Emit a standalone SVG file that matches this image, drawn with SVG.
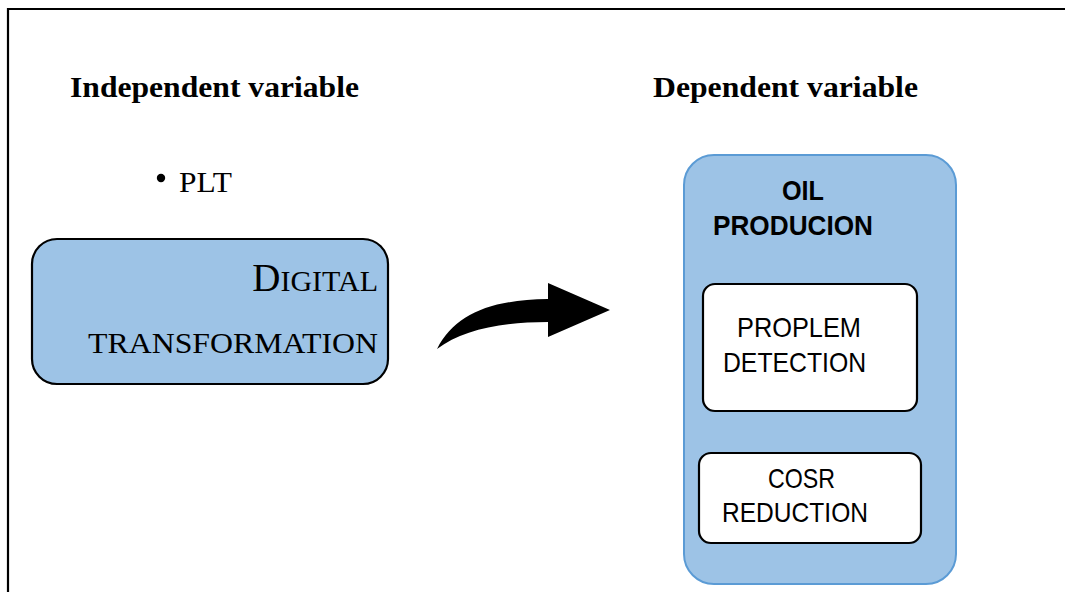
<svg xmlns="http://www.w3.org/2000/svg" width="1065" height="592" viewBox="0 0 1065 592">
  <style>
    .heading { font-family: "Liberation Serif", "Times New Roman", serif; font-weight: bold; font-size: 30px; fill: #000; }
    .serif { font-family: "Liberation Serif", "Times New Roman", serif; fill: #000; }
    .sans { font-family: "Liberation Sans", Arial, sans-serif; fill: #000; }
    .box-blue { fill: #9dc3e6; stroke: #000; stroke-width: 2.2; }
    .box-outer { fill: #9dc3e6; stroke: #5b9bd5; stroke-width: 2; }
    .box-white { fill: #fff; stroke: #000; stroke-width: 2.2; }
  </style>

  <rect width="1065" height="592" fill="#fff"/>

  <!-- page frame (top and left edges) -->
  <path d="M 8 592 L 8 9 L 1065 9" fill="none" stroke="#000" stroke-width="2.2"/>

  <!-- column headings -->
  <text class="heading" x="70" y="97" textLength="289" lengthAdjust="spacingAndGlyphs">Independent variable</text>
  <text class="heading" x="653" y="97" textLength="265" lengthAdjust="spacingAndGlyphs">Dependent variable</text>

  <!-- bullet item -->
  <g id="plt">
    <circle cx="161" cy="178" r="4.2" fill="#000"/>
    <text class="serif" x="179" y="192" font-size="30" textLength="53" lengthAdjust="spacingAndGlyphs">PLT</text>
  </g>

  <!-- independent variable node -->
  <g id="digital-transformation">
    <rect class="box-blue" x="32" y="239" width="356" height="145" rx="25" ry="25"/>
    <text class="serif" x="378" y="291" text-anchor="end" font-size="30"><tspan font-size="39">D</tspan>IGITAL</text>
    <text class="serif" x="378" y="353" text-anchor="end" font-size="30" textLength="290" lengthAdjust="spacingAndGlyphs">TRANSFORMATION</text>
  </g>

  <!-- connector -->
  <g id="connectors">
    <path d="M 437 349 C 455 314, 490 300, 548 299 L 548 283 L 610 310 L 548 337 L 548 322 C 500 322, 462 330, 437 349 Z" fill="#000"/>
  </g>

  <!-- dependent variable node -->
  <g id="oil-production">
    <rect class="box-outer" x="684" y="155" width="272" height="429" rx="30" ry="30"/>
    <text class="sans" x="803" y="200" text-anchor="middle" font-size="28" font-weight="bold" textLength="42" lengthAdjust="spacingAndGlyphs">OIL</text>
    <text class="sans" x="713" y="235" font-size="28" font-weight="bold" textLength="160" lengthAdjust="spacingAndGlyphs">PRODUCION</text>
  </g>

  <g id="problem-detection">
    <rect class="box-white" x="703" y="284" width="214" height="127" rx="12" ry="12"/>
    <text class="sans" x="737" y="337" font-size="27.5" textLength="124" lengthAdjust="spacingAndGlyphs">PROPLEM</text>
    <text class="sans" x="723" y="372" font-size="27.5" textLength="143" lengthAdjust="spacingAndGlyphs">DETECTION</text>
  </g>

  <g id="cost-reduction">
    <rect class="box-white" x="699" y="453" width="222" height="90" rx="12" ry="12"/>
    <text class="sans" x="768" y="488" font-size="27.5" textLength="67" lengthAdjust="spacingAndGlyphs">COSR</text>
    <text class="sans" x="722" y="522" font-size="27.5" textLength="146" lengthAdjust="spacingAndGlyphs">REDUCTION</text>
  </g>
</svg>
